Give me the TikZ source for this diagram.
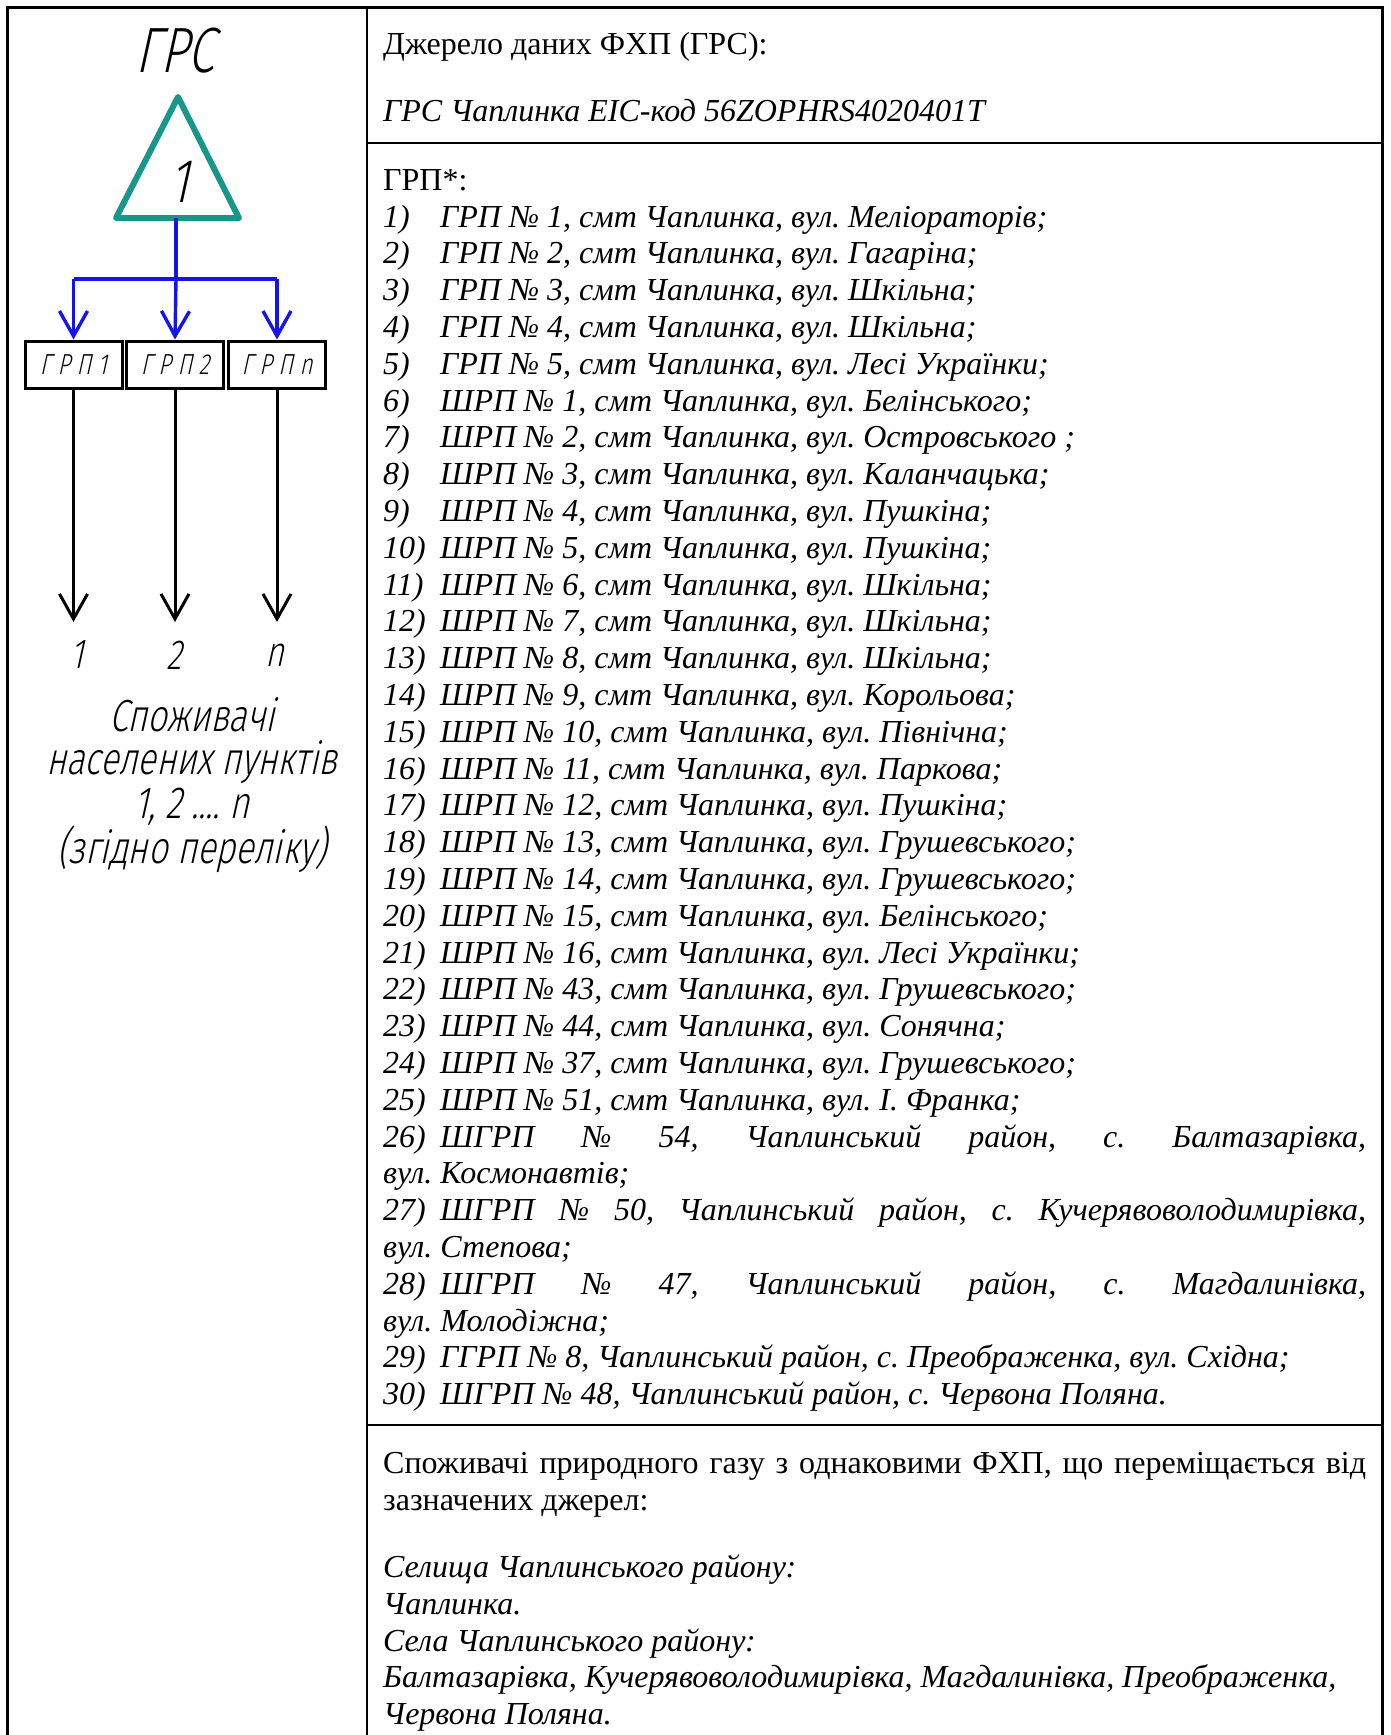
\documentclass[tikz,border=0pt]{standalone}
\usepackage{fontspec}
\setmainfont{Liberation Serif}
\IfFontExistsTF{Fira Sans Light}
  {\newfontfamily\gost[FakeSlant=0.22,FakeStretch=0.76]{Fira Sans Light}}
  {\IfFontExistsTF{Lato Light}
    {\newfontfamily\gost[FakeSlant=0.22,FakeStretch=0.76]{Lato Light}}
    {\newfontfamily\gost[FakeSlant=0.22,FakeStretch=0.7]{DejaVu Sans}}}
\usetikzlibrary{arrows.meta}
\definecolor{tealc}{RGB}{24,150,138}
\definecolor{bluec}{RGB}{20,20,235}
\tikzset{
  frame/.style={line width=3pt,black},
  divider/.style={line width=2.5pt,black},
  txt/.style={anchor=base west,inner sep=0pt,font=\fontsize{32}{36.8}\selectfont},
  it/.style={font=\fontsize{32}{36.8}\selectfont\itshape},
  bl/.style={line width=3.4pt,bluec},
  bk/.style={line width=3pt,black},
  barb/.style={-{Straight Barb[length=25pt,width=28pt]}},
  grpbox/.style={draw,line width=3pt,minimum width=97pt,minimum height=47pt,inner sep=0pt,font=\gost\fontsize{29}{29}\selectfont},
  gtxt/.style={inner sep=0pt,font=\gost\fontsize{42}{42}\selectfont}
}
\newcommand\itm[4]{\node[txt,it] (#1) at (383,{227+36.8*#2}) {\makebox[57pt][l]{#3)}#4};}
\newcommand\spc{\hspace{6.5pt}}
\frenchspacing
\begin{document}
\begin{tikzpicture}[x=1pt,y=-1pt]
\useasboundingbox (0,0) rectangle (1390,1735);
% table frame
\draw[frame] (7,1735) -- (7,7) -- (1382,7) -- (1382,1735);
\draw[divider] (367,7) -- (367,1735);
\draw[divider] (367,143) -- (1382,143);
\draw[divider] (367,1425) -- (1382,1425);

% ---------- left diagram ----------
\node[inner sep=0pt,font=\gost\fontsize{64}{64}\selectfont] (grs) at (175,51) {ГРС};
\draw[tealc,line width=6pt,line join=round] (178,97) -- (239,218) -- (116,218) -- cycle;
\node[inner sep=0pt,font=\gost\fontsize{62}{62}\selectfont] (one) at (179,182) {1};
\coordinate (trib) at (176,218);
\coordinate (busC) at (176,279);
\coordinate (busL) at (73.5,279);
\coordinate (busR) at (277,279);

\node[grpbox] (g1) at (73.5,364.5) {Г\spc Р\spc П\spc 1};
\node[grpbox] (g2) at (175,364.5) {Г\spc Р\spc П\spc 2};
\node[grpbox] (g3) at (277,364.5) {Г\spc Р\spc П\spc n};

\draw[bl] (trib) -- (busC);
\draw[bl] (busL) -- (busR);
\draw[bl,barb] (busL) -- (g1.north);
\draw[bl,barb] (busC) -- (g2.north);
\draw[bl,barb] (busR) -- (g3.north);

\coordinate (e1) at (73.5,622);
\coordinate (e2) at (175,622);
\coordinate (e3) at (277,622);
\draw[bk,barb] (g1.south) -- (e1);
\draw[bk,barb] (g2.south) -- (e2);
\draw[bk,barb] (g3.south) -- (e3);

\node[gtxt] (n1) at (77,655) {1};
\node[gtxt] (n2) at (174,655) {2};
\node[gtxt] (n3) at (275,655) {n};

\node[inner sep=0pt,align=center,font=\gost\fontsize{45}{43.5}\selectfont] (cons) at (192,785)
  {Споживачі\\населених пунктів\\1, 2 .... n\\(згідно переліку)};

% ---------- right column ----------
\node[txt] (src) at (383,54) {Джерело даних ФХП (ГРС):};
\node[txt,it] (grsid) at (383,121) {ГРС Чаплинка EIC-код 56ZOPHRS4020401T};
\node[txt] (grp) at (383,190) {ГРП*:};

\itm{i1}{0}{1}{ГРП № 1, смт Чаплинка, вул. Меліораторів;}
\itm{i2}{1}{2}{ГРП № 2, смт Чаплинка, вул. Гагаріна;}
\itm{i3}{2}{3}{ГРП № 3, смт Чаплинка, вул. Шкільна;}
\itm{i4}{3}{4}{ГРП № 4, смт Чаплинка, вул. Шкільна;}
\itm{i5}{4}{5}{ГРП № 5, смт Чаплинка, вул. Лесі Українки;}
\itm{i6}{5}{6}{ШРП № 1, смт Чаплинка, вул. Белінського;}
\itm{i7}{6}{7}{ШРП № 2, смт Чаплинка, вул. Островського ;}
\itm{i8}{7}{8}{ШРП № 3, смт Чаплинка, вул. Каланчацька;}
\itm{i9}{8}{9}{ШРП № 4, смт Чаплинка, вул. Пушкіна;}
\itm{i10}{9}{10}{ШРП № 5, смт Чаплинка, вул. Пушкіна;}
\itm{i11}{10}{11}{ШРП № 6, смт Чаплинка, вул. Шкільна;}
\itm{i12}{11}{12}{ШРП № 7, смт Чаплинка, вул. Шкільна;}
\itm{i13}{12}{13}{ШРП № 8, смт Чаплинка, вул. Шкільна;}
\itm{i14}{13}{14}{ШРП № 9, смт Чаплинка, вул. Корольова;}
\itm{i15}{14}{15}{ШРП № 10, смт Чаплинка, вул. Північна;}
\itm{i16}{15}{16}{ШРП № 11, смт Чаплинка, вул. Паркова;}
\itm{i17}{16}{17}{ШРП № 12, смт Чаплинка, вул. Пушкіна;}
\itm{i18}{17}{18}{ШРП № 13, смт Чаплинка, вул. Грушевського;}
\itm{i19}{18}{19}{ШРП № 14, смт Чаплинка, вул. Грушевського;}
\itm{i20}{19}{20}{ШРП № 15, смт Чаплинка, вул. Белінського;}
\itm{i21}{20}{21}{ШРП № 16, смт Чаплинка, вул. Лесі Українки;}
\itm{i22}{21}{22}{ШРП № 43, смт Чаплинка, вул. Грушевського;}
\itm{i23}{22}{23}{ШРП № 44, смт Чаплинка, вул. Сонячна;}
\itm{i24}{23}{24}{ШРП № 37, смт Чаплинка, вул. Грушевського;}
\itm{i25}{24}{25}{ШРП № 51, смт Чаплинка, вул. І. Франка;}
\itm{i26}{25}{26}{\makebox[926pt][s]{ШГРП № 54, Чаплинський район, с. Балтазарівка,}}
\node[txt,it] (i26b) at (383,{227+36.8*26}) {вул. Космонавтів;};
\itm{i27}{27}{27}{\makebox[926pt][s]{ШГРП № 50, Чаплинський район, с. Кучерявоволодимирівка,}}
\node[txt,it] (i27b) at (383,{227+36.8*28}) {вул. Степова;};
\itm{i28}{29}{28}{\makebox[926pt][s]{ШГРП № 47, Чаплинський район, с. Магдалинівка,}}
\node[txt,it] (i28b) at (383,{227+36.8*30}) {вул. Молодіжна;};
\itm{i29}{31}{29}{ГГРП № 8, Чаплинський район, с. Преображенка, вул. Східна;}
\itm{i30}{32}{30}{ШГРП № 48, Чаплинський район, с. Червона Поляна.}

\node[txt] (b1) at (383,1473) {\makebox[983pt][s]{Споживачі природного газу з однаковими ФХП, що переміщається від}};
\node[txt] (b2) at (383,1510) {зазначених джерел:};
\node[txt,it] (b3) at (383,1577) {Селища Чаплинського району:};
\node[txt,it] (b4) at (383,1614) {Чаплинка.};
\node[txt,it] (b5) at (383,1651) {Села Чаплинського району:};
\node[txt,it] (b6) at (383,1687) {Балтазарівка, Кучерявоволодимирівка, Магдалинівка, Преображенка,};
\node[txt,it] (b7) at (383,1724) {Червона Поляна.};
\end{tikzpicture}
\end{document}
